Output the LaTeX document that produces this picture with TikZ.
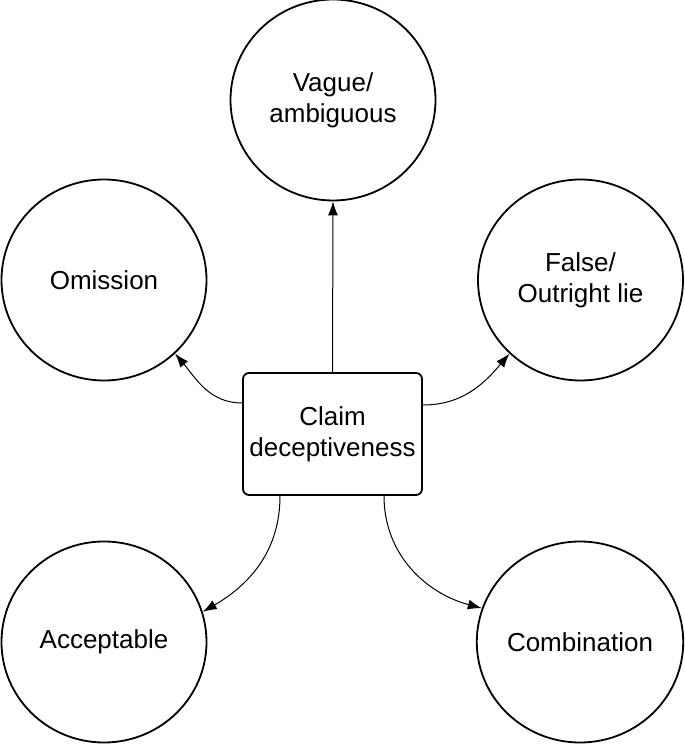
\documentclass[tikz,border=0pt]{standalone}
\usepackage{fontspec}
\setmainfont{Liberation Sans}
\usetikzlibrary{arrows.meta,shapes.geometric}
\begin{document}
\begin{tikzpicture}[x=1pt,y=1pt,
  bubble/.style={draw, line width=1.8pt, ellipse, minimum width=205pt, minimum height=201pt, inner sep=0pt, align=center,
    font=\fontsize{26}{31}\selectfont},
  centerbox/.style={draw, line width=1.8pt, rounded corners=6pt, minimum width=179pt, minimum height=122pt,
    inner sep=0pt, align=center, font=\fontsize{26}{31}\selectfont},
  conn/.style={line width=1pt, -{Latex[length=14pt,width=10pt]}}]
\useasboundingbox (0,0) rectangle (685,744);
\node[bubble] (vague) at (333,644) {Vague/\\ambiguous};
\node[bubble] (om) at (104,464) {Omission};
\node[bubble] (false) at (580.5,464) {False/\\Outright lie};
\node[bubble] (acc) at (104,102) {Acceptable};
\node[bubble] (comb) at (580,102) {Combination};
\node[centerbox] (box) at (332.5,310) {Claim\\deceptiveness};
\draw[conn] (box.north) -- (vague.south);
\draw[conn] ([yshift=31pt]box.west) to[out=180,in=-50] (om.-46);
\draw[conn] ([yshift=29pt]box.east) to[out=0,in=-130] (false.-134.5);
\draw[conn] ([xshift=-52.5pt]box.south) to[out=-90,in=30] (acc.17);
\draw[conn] ([xshift=51.5pt]box.south) to[out=-90,in=165] (comb.161.7);
\end{tikzpicture}
\end{document}
